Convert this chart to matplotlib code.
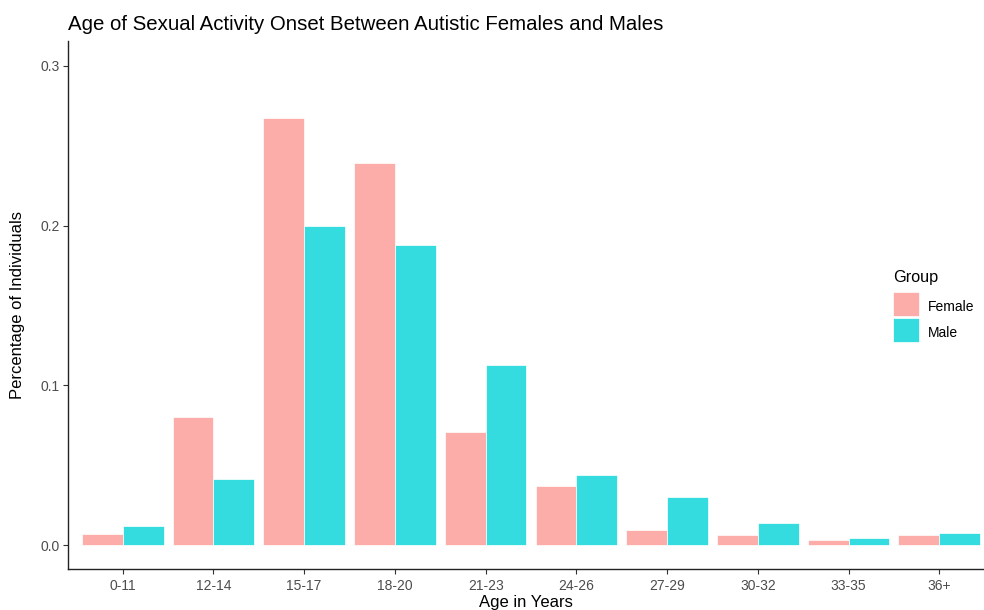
import matplotlib
matplotlib.use("Agg")
import matplotlib.pyplot as plt
import numpy as np
from matplotlib.patches import Rectangle

plt.rcParams['font.family'] = ['Liberation Sans', 'DejaVu Sans']

categories = ["0-11", "12-14", "15-17", "18-20", "21-23", "24-26", "27-29", "30-32", "33-35", "36+"]
female = [0.0072, 0.080, 0.2675, 0.239, 0.071, 0.037, 0.0094, 0.0061, 0.0031, 0.0061]
male = [0.0117, 0.0415, 0.200, 0.188, 0.1125, 0.044, 0.030, 0.014, 0.0044, 0.0073]
groups = ["Female", "Male"]
colors = ["#FDADA9", "#34DBDF"]

W, H = 984, 610
fig = plt.figure(figsize=(W/100, H/100), dpi=100)
ax = fig.add_axes([68/W, 41/H, (W-68)/W, 528/H])

x = np.arange(len(categories))
w = 0.45
ax.bar(x - w/2, female, width=w, color=colors[0], edgecolor="white", linewidth=0.5)
ax.bar(x + w/2, male, width=w, color=colors[1], edgecolor="white", linewidth=0.5)

ax.set_xlim(-0.603, 9.493)
ax.set_ylim(-0.015, 0.3156)
ax.set_xticks(x)
ax.set_xticklabels(categories)
ax.set_yticks([0.0, 0.1, 0.2, 0.3])
ax.set_yticklabels(["0.0", "0.1", "0.2", "0.3"])
ax.tick_params(axis='both', labelsize=10, labelcolor="#4D4D4D", color="#333333", length=3.5, width=0.8)
ax.tick_params(axis='y', pad=2.5)
ax.tick_params(axis='x', pad=3.5)
for s in ["top", "right"]:
    ax.spines[s].set_visible(False)
for s in ["left", "bottom"]:
    ax.spines[s].set_color("#222222")
    ax.spines[s].set_linewidth(1.0)

ax.set_xlabel("Age in Years", fontsize=12)
ax.set_ylabel("Percentage of Individuals", fontsize=12)
ax.xaxis.set_label_coords(0.5, -(595 - 569) / 528)
ax.yaxis.set_label_coords(-(68 - 25) / 916, 0.5)
fig.text(68/W, 1 - 25/H, "Age of Sexual Activity Onset Between Autistic Females and Males",
         fontsize=14.7, ha="left", va="center")

# Legend (drawn in figure pixel positions)
fig.text(893/W, 1 - 281.7/H, "Group", fontsize=11.7, ha="left", va="baseline")
key_tops = [291.7, 318.3]
label_baselines = [311.3, 337.3]
for i, g in enumerate(groups):
    fig.patches.append(Rectangle((892.7/W, 1 - (key_tops[i] + 24)/H), 26.3/W, 24/H,
                                 transform=fig.transFigure, facecolor=colors[i],
                                 edgecolor="white", linewidth=0.5))
    fig.text(928/W, 1 - label_baselines[i]/H, g, fontsize=10, ha="left", va="baseline")

fig.savefig("out.png", dpi=100)
